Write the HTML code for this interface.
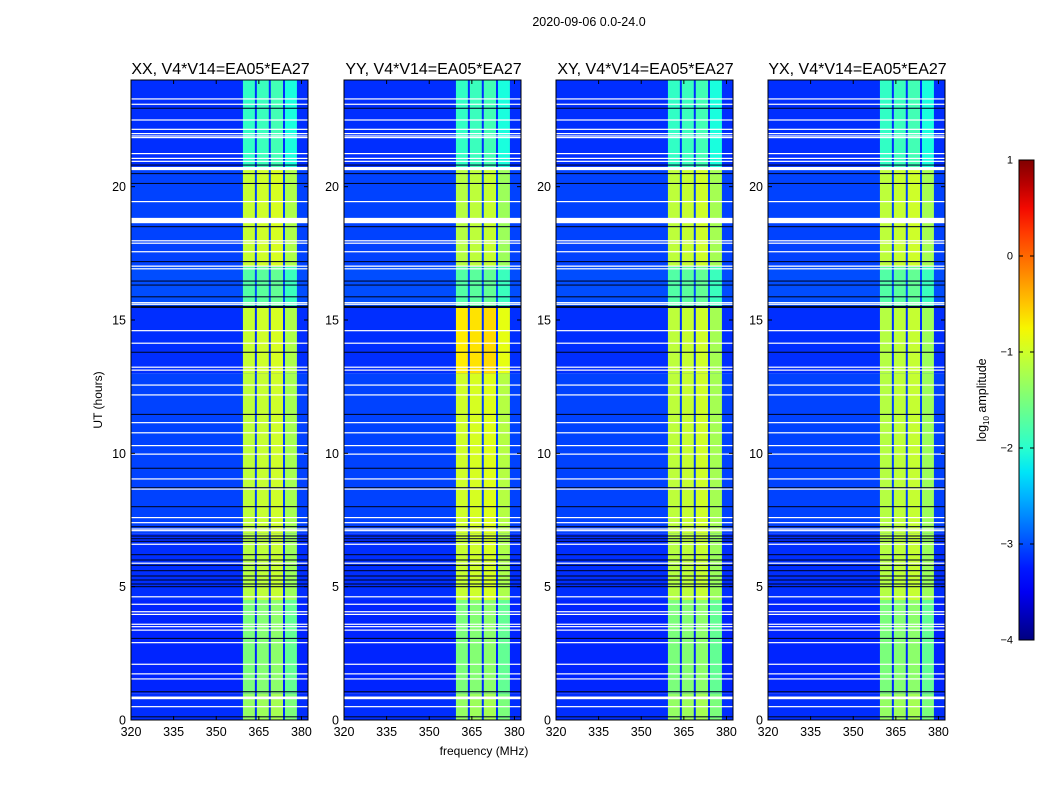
<!DOCTYPE html>
<html><head><meta charset="utf-8">
<style>
body{margin:0;background:#fff;width:1050px;height:800px;overflow:hidden;font-family:"Liberation Sans",sans-serif;}
svg text{font-family:"Liberation Sans",sans-serif;fill:#000;}
</style></head>
<body>
<svg id="chart" width="1050" height="800" xmlns="http://www.w3.org/2000/svg">
<text x="589" y="26" font-size="12.5" text-anchor="middle">2020-09-06 0.0-24.0</text>
<text x="484" y="755" font-size="12" text-anchor="middle">frequency (MHz)</text>
<text x="0" y="0" font-size="12" text-anchor="middle" transform="translate(102,400) rotate(-90)">UT (hours)</text>
<g id="panels"></g>
<g id="cbar"></g>
</svg>
<script>
const panelTitles = ["XX, V4*V14=EA05*EA27","YY, V4*V14=EA05*EA27","XY, V4*V14=EA05*EA27","YX, V4*V14=EA05*EA27"];
const xTicks = [320,335,350,365,380];
const yTicks = [0,5,10,15,20];
const cbarTicks = [1,0,-1,-2,-3,-4];
// sub-band frequency edges (MHz)
const subBandLo = [359.4,364.3,369.2,374.2];
const subBandHi = [363.6,368.5,373.5,378.4];
const subBandOffset = [0.05,0.1,0.15,-0.1];
// time segments (hours) and band log-amplitude per panel
const segStart = [0,1,4.5,7,13,15.5,17,20.7];
const segEnd   = [1,4.5,7,13,15.5,17,20.7,24];
const bandXX = [-1.4,-1.55,-1.2,-1.15,-1.1,-1.8,-1.1,-2.0];
const bandYY = [-1.4,-1.55,-1.1,-1.05,-0.75,-1.8,-1.2,-2.0];
const bandXY = [-1.4,-1.55,-1.2,-1.15,-1.15,-1.8,-1.15,-2.0];
const bandYX = [-1.4,-1.55,-1.2,-1.2,-1.2,-1.8,-1.15,-2.0];
const bgLevel = [-3.15,-3.2,-3.15,-3.05,-3.15,-3.0,-3.05,-3.15];
// flagged (white) rows, hours and widths
const flagT = [23.29,23.09,22.5,22.15,21.99,21.9,21.84,21.24,21.06,20.95,20.68,19.44,18.73,17.97,17.88,17.56,17.02,16.92,15.65,15.59,14.6,14.13,13.23,13.12,12.56,12.19,11.15,10.77,10.29,9.97,9.04,8.66,7.59,7.4,7.16,7.1,6.59,5.88,4.62,4.34,4.06,3.96,3.59,3.5,3.37,2.9,2.09,1.73,1.54,0.83,0.5];
const flagW = [0.045,0.045,0.045,0.045,0.045,0.045,0.045,0.045,0.045,0.045,0.12,0.045,0.2,0.045,0.045,0.045,0.045,0.045,0.045,0.045,0.045,0.045,0.045,0.045,0.045,0.045,0.045,0.045,0.045,0.045,0.045,0.045,0.045,0.045,0.045,0.045,0.045,0.045,0.045,0.045,0.045,0.045,0.045,0.045,0.045,0.045,0.045,0.045,0.045,0.1,0.045];
// dark (low amplitude) rows
const darkT = [22.94,20.81,20.49,20.12,18.5,17.19,16.46,16.31,15.87,15.49,13.79,11.46,9.44,8.71,8.0,7.25,6.9,6.8,6.7,6.2,6.0,5.8,5.6,5.4,5.25,5.1,5.0,3.06,1.06,0.12];
const darkW = [0.04,0.04,0.04,0.04,0.04,0.04,0.04,0.04,0.04,0.08,0.04,0.04,0.04,0.04,0.04,0.04,0.04,0.035,0.035,0.04,0.04,0.04,0.04,0.04,0.04,0.04,0.04,0.04,0.04,0.04];

const panelLeft = [131,344,556,768];
const panelW = 177, plotTop = 80, plotBottom = 720;
const fMin = 320, fMax = 382.3;
const vMin = -4, vMax = 1;
const NS = "http://www.w3.org/2000/svg";

function jet(t){
  t=Math.max(0,Math.min(1,t));
  function lin(x,pts){for(let i=0;i<pts.length-1;i++){const [x0,y0]=pts[i],[x1,y1]=pts[i+1];if(x>=x0&&x<=x1)return y0+(y1-y0)*(x-x0)/(x1-x0);}return pts[pts.length-1][1];}
  const r=lin(t,[[0,0],[0.35,0],[0.66,1],[0.89,1],[1,0.5]]);
  const g=lin(t,[[0,0],[0.125,0],[0.375,1],[0.64,1],[0.91,0],[1,0]]);
  const b=lin(t,[[0,0.5],[0.11,1],[0.34,1],[0.65,0],[1,0]]);
  return `rgb(${Math.round(r*255)},${Math.round(g*255)},${Math.round(b*255)})`;
}
function col(v){return jet((v-vMin)/(vMax-vMin));}
function mk(tag,attrs,parent){const e=document.createElementNS(NS,tag);for(const k in attrs)e.setAttribute(k,attrs[k]);parent.appendChild(e);return e;}

const bands=[bandXX,bandYY,bandXY,bandYX];
const panelsG=document.getElementById('panels');
panelLeft.forEach((L,p)=>{
  const xS=f=>L+(f-fMin)/(fMax-fMin)*panelW;
  const yS=h=>plotBottom-h/24*(plotBottom-plotTop);
  const g=mk('g',{},panelsG);
  
  
  segStart.forEach((s,i)=>{
    const r=mk('rect',{x:L,y:yS(segEnd[i]),width:panelW,height:yS(s)-yS(segEnd[i]),fill:col(bgLevel[i])},g);
    
    
    subBandLo.forEach((lo,j)=>{
      const c=mk('rect',{x:xS(lo),y:yS(segEnd[i]),width:xS(subBandHi[j])-xS(lo),height:yS(s)-yS(segEnd[i]),fill:col(bands[p][i]+subBandOffset[j])},g);
      
      
    });
  });
  darkT.forEach((t,i)=>{
    const r=mk('rect',{x:L,y:yS(t+darkW[i]/2),width:panelW,height:Math.max(1,yS(t-darkW[i]/2)-yS(t+darkW[i]/2)),fill:'#000828'},g);
    
    
  });
  flagT.forEach((t,i)=>{
    const r=mk('rect',{x:L,y:yS(t+flagW[i]/2),width:panelW,height:Math.max(1,yS(t-flagW[i]/2)-yS(t+flagW[i]/2)),fill:'#fff'},g);
    
    
  });
  const fr=mk('rect',{x:L,y:plotTop,width:panelW,height:plotBottom-plotTop,fill:'none',stroke:'#000','stroke-width':1},g);
  
  
  const tt=mk('text',{x:L+panelW/2+1,y:74,'font-size':16,'text-anchor':'middle'},g);
  tt.textContent=panelTitles[p];
  
  
  xTicks.forEach(v=>{
    const x=xS(v);
    mk('line',{x1:x,x2:x,y1:plotBottom,y2:plotBottom-4,stroke:'#000'},g);
    mk('line',{x1:x,x2:x,y1:plotTop,y2:plotTop+4,stroke:'#000'},g);
    const t=mk('text',{x:x,y:plotBottom+16,'font-size':12.5,'text-anchor':'middle'},g);
    t.textContent=v;
    
    
  });
  yTicks.forEach(v=>{
    const y=yS(v);
    mk('line',{x1:L,x2:L+4,y1:y,y2:y,stroke:'#000'},g);
    mk('line',{x1:L+panelW,x2:L+panelW-4,y1:y,y2:y,stroke:'#000'},g);
    const t=mk('text',{x:L-5,y:y+4.5,'font-size':12.5,'text-anchor':'end'},g);
    t.textContent=v;
    
    
  });
});

// colorbar
const cb=document.getElementById('cbar');


const cbX=1019,cbW=15,cbTop=160,cbBot=640;
const defs=mk('defs',{},cb);
const grad=mk('linearGradient',{id:'jetg',x1:0,y1:1,x2:0,y2:0},defs);
for(let i=0;i<=20;i++){mk('stop',{offset:i/20,'stop-color':jet(i/20)},grad);}
mk('rect',{x:cbX,y:cbTop,width:cbW,height:cbBot-cbTop,fill:'url(#jetg)',stroke:'#000','stroke-width':1},cb);
cbarTicks.forEach(v=>{
  const y=cbBot-(v-vMin)/(vMax-vMin)*(cbBot-cbTop);
  mk('line',{x1:cbX,x2:cbX+4,y1:y,y2:y,stroke:'#000'},cb);
  mk('line',{x1:cbX+cbW,x2:cbX+cbW-4,y1:y,y2:y,stroke:'#000'},cb);
  const t=mk('text',{x:1013,y:y+3.5,'font-size':11,'text-anchor':'end'},cb);
  t.textContent=v<0?'\u2212'+(-v):String(v);
  
  
});
const cl=mk('text',{x:0,y:0,'font-size':12.5,'text-anchor':'middle',transform:'translate(986,400) rotate(-90)'},cb);
cl.innerHTML='log<tspan font-size="8" dy="3">10</tspan><tspan dy="-3"> amplitude</tspan>';


</script>
</body></html>
